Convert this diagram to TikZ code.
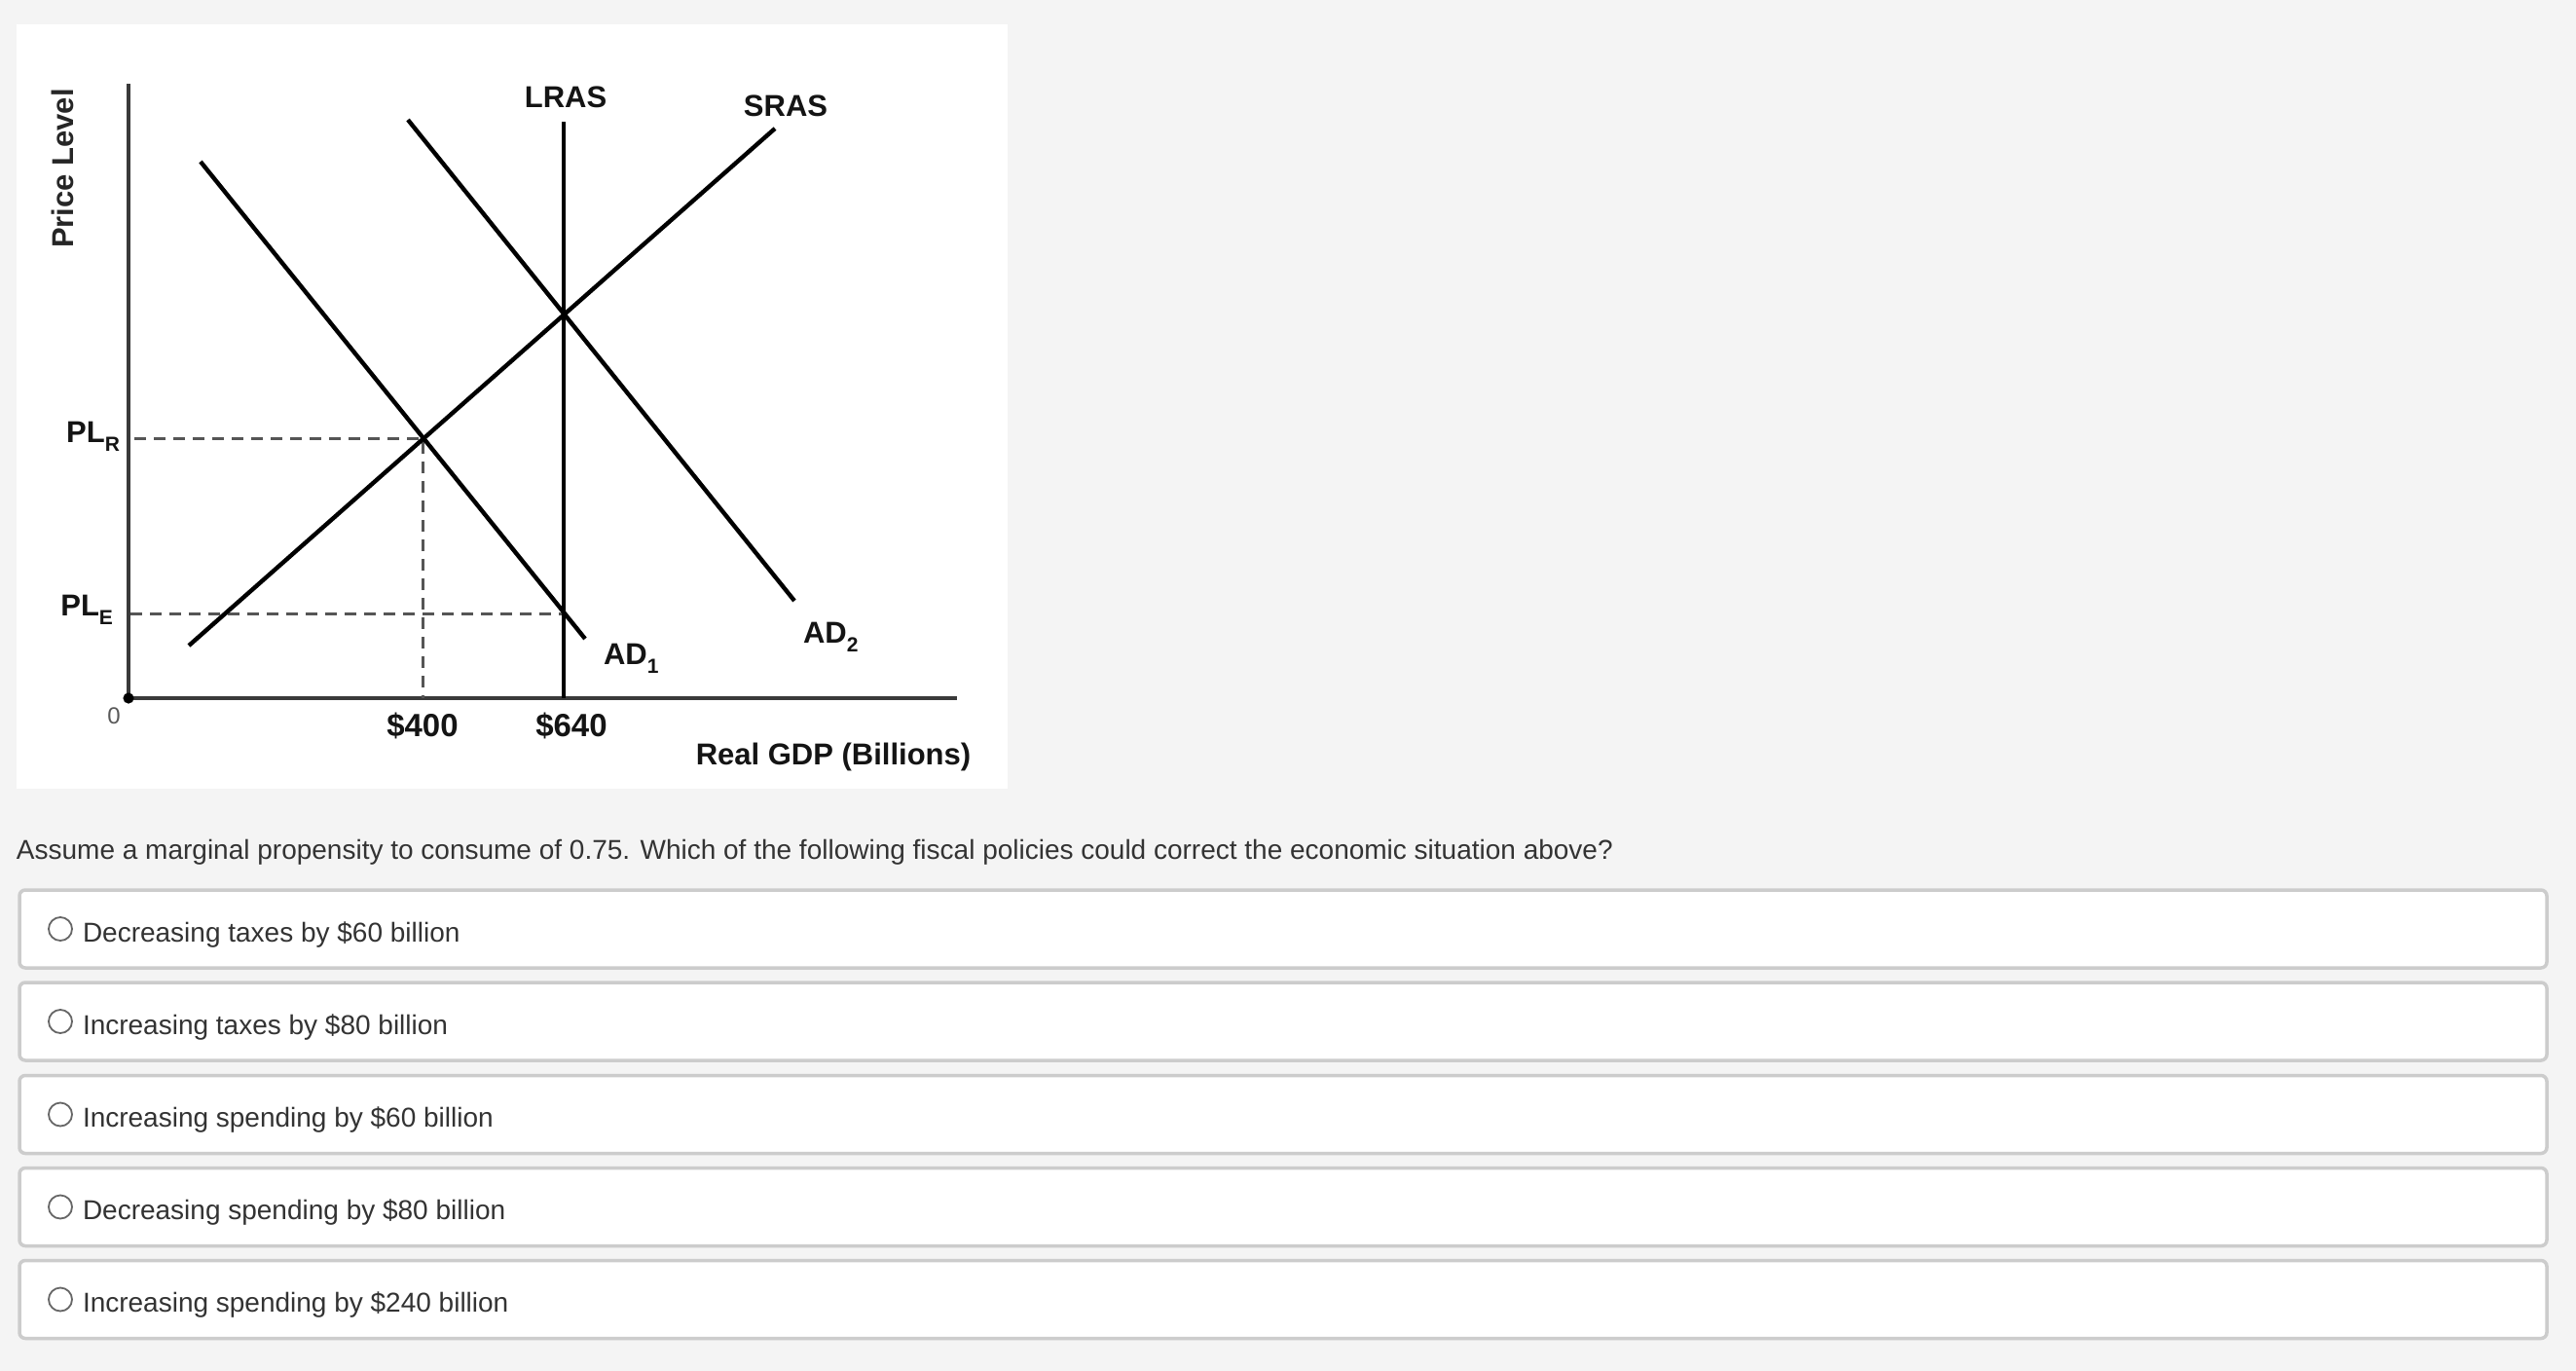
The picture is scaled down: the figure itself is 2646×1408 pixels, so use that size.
\documentclass[tikz,border=0pt]{standalone}
\usepackage{fontspec}
\setmainfont{Liberation Sans}
\usepackage{xcolor}
\usepackage{tikz}
\usetikzlibrary{
  positioning
}
\definecolor{pagebg}{HTML}{F4F4F4}
\definecolor{boxline}{HTML}{CCCCCC}
\definecolor{bodytext}{HTML}{333333}
\definecolor{axisgray}{HTML}{3A3A3A}
\definecolor{guidegray}{HTML}{555555}
\newcommand{\lowsub}[1]{\raisebox{-0.55ex}{\fontsize{10.5}{12}\selectfont #1}}

\begin{document}
\begin{tikzpicture}[x=0.5pt, y=-0.5pt,
    every node/.style={inner sep=0pt, outer sep=0pt},
    curve/.style={line width=2.2pt, black},
    axisline/.style={line width=2pt, axisgray},
    guide/.style={line width=1.5pt, guidegray, dash pattern=on 6pt off 4pt},
    lbl/.style={font=\fontsize{15.5}{18}\selectfont\bfseries, text=black!92},
    choice/.style={draw=boxline, line width=1.75pt, fill=white, rounded corners=3pt, minimum width=1298pt, minimum height=40pt},
    radio/.style={circle, draw=black!60, line width=0.9pt, fill=white, minimum size=12pt},
    answer/.style={font=\fontsize{14}{17}\selectfont, text=bodytext, text height=15pt, text depth=2pt}]
\useasboundingbox (0,0) rectangle (2646,1408);
\fill[pagebg] (0,0) rectangle (2646,1408);
\fill[white] (17,25) rectangle (1035,810);

% axes
\coordinate (O) at (132,717);
\coordinate (ytop) at (132,86);
\coordinate (xend) at (983,717);
\draw[axisline] (ytop) -- (O) -- (xend);
\fill[black] (O) circle (2.8pt);

% curves
\coordinate (lras top) at (579,125);
\coordinate (lras bot) at (579,717);
\coordinate (sras a) at (194,663);
\coordinate (sras b) at (796,132);
\coordinate (ad1 a) at (206,166);
\coordinate (ad1 b) at (601,656);
\coordinate (ad2 a) at (419,123);
\coordinate (ad2 b) at (816,617);
\coordinate (R) at (434,450);
\coordinate (E) at (579,630);
\coordinate (plr start) at (138,450);
\coordinate (ple start) at (134,630);
\coordinate (x400) at (434,717);

\draw[guide] (plr start) -- (R) -- (x400);
\draw[guide] (ple start) -- (E);
\draw[curve] (lras top) -- (lras bot);
\draw[curve] (sras a) -- (sras b);
\draw[curve] (ad1 a) -- (ad1 b);
\draw[curve] (ad2 a) -- (ad2 b);

% labels
\node[lbl, rotate=90, text=black!85] (ylabel) at (64,173) {Price Level};
\node[lbl, anchor=base east] (plr) at (123,454) {PL\lowsub{R}};
\node[lbl, anchor=base east] (ple) at (116,632) {PL\lowsub{E}};
\node[font=\fontsize{12}{14}\selectfont, text=black!65] (zero) at (117,735) {0};
\node[lbl] (lras) at (581,100) {LRAS};
\node[lbl] (sras) at (807,109) {SRAS};
\node[lbl, anchor=base west] (ad1) at (620,682) {AD\lowsub{1}};
\node[lbl, anchor=base west] (ad2) at (825,660) {AD\lowsub{2}};
\node[lbl, font=\fontsize{16.5}{18}\selectfont\bfseries] (q400) at (434,745) {\$400};
\node[lbl, font=\fontsize{16.5}{18}\selectfont\bfseries] (q640) at (587,745) {\$640};
\node[lbl] (xlabel) at (856,777) {Real GDP (Billions)};

% question
\node[font=\fontsize{14}{17}\selectfont, text=bodytext, anchor=base west] (question) at (17,882)
  {Assume a marginal propensity to consume of 0.75. Which of the following fiscal policies could correct the economic situation above?};

% answer choices
\node[choice] (opt1) at (1318,954) {};
\node[radio, right=15pt of opt1.west] (r1) {};
\node[answer, right=5.5pt of r1] (a1) {Decreasing taxes by \$60 billion};

\node[choice] (opt2) at (1318,1049) {};
\node[radio, right=15pt of opt2.west] (r2) {};
\node[answer, right=5.5pt of r2] (a2) {Increasing taxes by \$80 billion};

\node[choice] (opt3) at (1318,1144.5) {};
\node[radio, right=15pt of opt3.west] (r3) {};
\node[answer, right=5.5pt of r3] (a3) {Increasing spending by \$60 billion};

\node[choice] (opt4) at (1318,1239.5) {};
\node[radio, right=15pt of opt4.west] (r4) {};
\node[answer, right=5.5pt of r4] (a4) {Decreasing spending by \$80 billion};

\node[choice] (opt5) at (1318,1334.5) {};
\node[radio, right=15pt of opt5.west] (r5) {};
\node[answer, right=5.5pt of r5] (a5) {Increasing spending by \$240 billion};
\end{tikzpicture}
\end{document}
